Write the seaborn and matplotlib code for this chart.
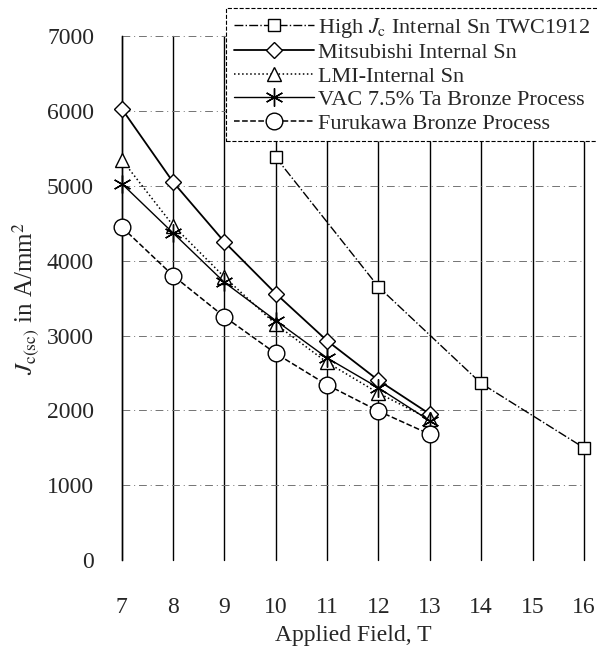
#!/usr/bin/env python
# -*- coding: utf-8 -*-

"""
Jc(sc) en fonction du champ appliqué pour plusieurs conducteurs Nb3Sn.
"""

import pandas as pd
import matplotlib
matplotlib.use("Agg")
import matplotlib.pyplot as plt
import seaborn as sns
import numpy as np

# Données
field_high_jc = [10, 12, 14, 16]
jc_high_jc = [5380, 3650, 2360, 1500]

field_std = [7, 8, 9, 10, 11, 12, 13]
jc_mitsubishi = [6030, 5050, 4250, 3560, 2930, 2400, 1950]
jc_lmi = [5350, 4470, 3780, 3150, 2640, 2230, 1880]
jc_vac = [5030, 4370, 3710, 3200, 2700, 2300, 1860]
jc_furukawa = [4450, 3800, 3250, 2760, 2340, 1990, 1680]

series_labels = [
    r"High $J_{\rm c}$ Internal Sn TWC1912",
    "Mitsubishi Internal Sn",
    "LMI-Internal Sn",
    "VAC 7.5% Ta Bronze Process",
    "Furukawa Bronze Process",
]
x_ticks = list(range(7, 17))
y_ticks = [0, 1000, 2000, 3000, 4000, 5000, 6000, 7000]


def main():
    sns.set_style("white")
    plt.rcParams["font.family"] = ["Liberation Serif", "DejaVu Serif"]
    plt.rcParams["mathtext.fontset"] = "stix"

    fig = plt.figure(figsize=(5.97, 6.47), dpi=100)
    ax = fig.add_axes([0.204, 0.1345, 0.774, 0.8095])

    # grille : verticales pleines, horizontales en tirets-points
    for xv in x_ticks:
        ax.axvline(xv, color="black", lw=1.0, zorder=1, clip_on=False)
    for yv in y_ticks[1:]:
        ax.axhline(yv, color="0.45", lw=0.7, ls=(0, (8, 4, 1, 4)), zorder=1)

    # (x, y, style de ligne, marqueur, taille, épaisseur)
    styles = [
        (field_high_jc, jc_high_jc, "-.", "s", 9, 1.0),
        (field_std, jc_mitsubishi, "-", "D", 8, 1.3),
        (field_std, jc_lmi, ":", "^", 10, 1.1),
        (field_std, jc_vac, "-", (6, 2, 0), 13, 1.0),
        (field_std, jc_furukawa, "--", "o", 12, 1.1),
    ]
    for (xs, ys, ls, mk, ms, lw), lab in zip(styles, series_labels):
        sns.lineplot(x=xs, y=ys, ax=ax, color="black", linestyle=ls, lw=lw,
                     marker=mk, markersize=ms, markerfacecolor="white",
                     markeredgecolor="black", markeredgewidth=1.0,
                     label=lab, clip_on=False, zorder=3, legend=False)

    ax.set_xlim(7, 16)
    ax.set_ylim(0, 7000)
    ax.set_xticks(x_ticks)
    ax.set_yticks(y_ticks)
    ax.set_xticks(np.arange(7, 16.01, 0.2), minor=True)
    ax.set_yticks(np.arange(0, 7001, 250), minor=True)
    ax.tick_params(axis="both", which="major", labelsize=17, direction="in",
                   length=5, width=0.8, color="black")
    ax.tick_params(axis="x", which="major", pad=27)
    ax.tick_params(axis="y", which="major", pad=20)
    ax.tick_params(axis="both", which="minor", direction="in", length=3,
                   width=0.6, color="black")

    for side in ["top", "right", "bottom"]:
        ax.spines[side].set_visible(False)
    ax.spines["left"].set_color("black")
    ax.spines["left"].set_linewidth(1.0)

    ax.set_xlabel("Applied Field, T", fontsize=17, labelpad=5)
    ax.set_ylabel(r"$J_{\rm c(sc)}$ in A/mm$^2$", fontsize=18, labelpad=4)

    # légende en haut à droite, cadre en tirets
    handles, labels = ax.get_legend_handles_labels()
    leg = ax.legend(handles, labels, loc="upper left",
                    bbox_to_anchor=(226 / 597, 1 - 8 / 647),
                    bbox_transform=fig.transFigure, fontsize=16,
                    frameon=True, fancybox=False, framealpha=1,
                    edgecolor="black", handlelength=3.6, handletextpad=0.2,
                    borderpad=0.35, labelspacing=0.13, borderaxespad=0)
    leg.get_frame().set_linestyle("--")
    leg.get_frame().set_linewidth(0.8)
    leg.set_zorder(5)

    fig.savefig("out.png", dpi=100)
    plt.close(fig)


if __name__ == "__main__":
    main()
